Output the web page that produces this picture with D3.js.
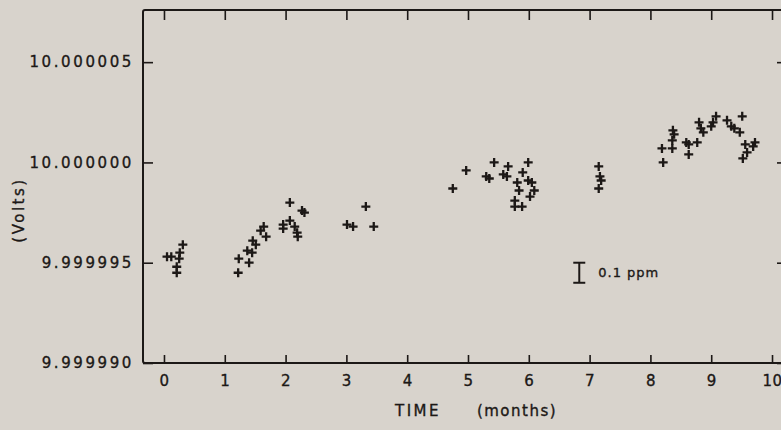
<!DOCTYPE html>
<html>
<head>
<meta charset="utf-8">
<script src="https://cdn.jsdelivr.net/npm/d3@7"></script>
<style>
  html, body { margin: 0; padding: 0; background: #d8d3cc; }
  svg { display: block; }
  text { font-family: "DejaVu Sans", sans-serif; fill: #1c1816; stroke: #1c1816; stroke-width: 0.35px; }
</style>
</head>
<body>
<svg id="chart" width="781" height="430"></svg>
<script>
// Measurement times (months) and measured output (volts) of the 10 V standard
const timeMonths = [
  0.05, 0.12, 0.31, 0.26, 0.25, 0.21, 0.21,
  1.22, 1.23, 1.40, 1.37, 1.45, 1.46, 1.51, 1.68, 1.59, 1.64,
  2.07, 2.27, 2.31, 1.96, 1.96, 2.07, 2.15, 2.19, 2.20,
  3.01, 3.11, 3.32, 3.45,
  4.75, 4.97, 5.43, 5.30, 5.35, 5.66, 5.58, 5.64, 5.99, 5.90,
  5.81, 5.99, 6.05, 5.84, 6.09, 6.02, 5.77, 5.77, 5.89,
  7.15, 7.17, 7.19, 7.15,
  8.21, 8.19, 8.36, 8.37, 8.39, 8.36, 8.59, 8.63, 8.63, 8.77,
  8.80, 8.83, 8.87, 9.00, 9.03, 9.08, 9.26, 9.33, 9.38, 9.47,
  9.51, 9.56, 9.59, 9.72, 9.69, 9.52
];
const volts = [
  9.9999953, 9.9999953, 9.9999959, 9.9999955, 9.9999952, 9.9999948, 9.9999945,
  9.9999945, 9.9999952, 9.9999950, 9.9999956, 9.9999955, 9.9999961, 9.9999959, 9.9999963, 9.9999966, 9.9999968,
  9.9999980, 9.9999976, 9.9999975, 9.9999969, 9.9999967, 9.9999971, 9.9999968, 9.9999965, 9.9999963,
  9.9999969, 9.9999968, 9.9999978, 9.9999968,
  9.9999987, 9.9999996, 10.0000000, 9.9999993, 9.9999992, 9.9999998, 9.9999994, 9.9999993, 10.0000000, 9.9999995,
  9.9999990, 9.9999991, 9.9999990, 9.9999986, 9.9999986, 9.9999983, 9.9999981, 9.9999978, 9.9999978,
  9.9999998, 9.9999993, 9.9999991, 9.9999987,
  10.0000000, 10.0000007, 10.0000007, 10.0000016, 10.0000014, 10.0000011, 10.0000010, 10.0000009, 10.0000004, 10.0000010,
  10.0000020, 10.0000017, 10.0000015, 10.0000018, 10.0000020, 10.0000023, 10.0000021, 10.0000018, 10.0000017, 10.0000015,
  10.0000023, 10.0000009, 10.0000005, 10.0000010, 10.0000008, 10.0000002
];

// Axis ticks
const xTicks = [0, 1, 2, 3, 4, 5, 6, 7, 8, 9, 10];
const yTicks = [9.999990, 9.999995, 10.000000, 10.000005];
const xDomain = [-0.345, 10.23];
const yDomain = [9.99999, 10.0000076];

// 0.1 ppm reference bar (1 µV at 10 V)
const scaleBarTime = [6.83];
const scaleBarVolts = [9.999995, 9.999994];
const scaleBarLabel = ["0.1 ppm"];

const svg = d3.select("#chart");
const plot = { left: 143, right: 786, top: 10, bottom: 363 };

const x = d3.scaleLinear().domain(xDomain).range([plot.left, plot.right]);
const y = d3.scaleLinear().domain(yDomain).range([plot.bottom, plot.top]);

const ink = "#1c1816";

// Frame
svg.append("rect")
  .attr("x", plot.left).attr("y", plot.top)
  .attr("width", plot.right - plot.left).attr("height", plot.bottom - plot.top)
  .attr("rx", 2)
  .attr("fill", "none").attr("stroke", ink).attr("stroke-width", 2);

function styleAxis(g) {
  g.select(".domain").remove();
  g.selectAll(".tick line").attr("stroke", ink).attr("stroke-width", 1.6);
  g.selectAll(".tick text")
    .attr("font-size", 15)
    .attr("letter-spacing", "2.6px")
    .attr("fill", ink);
}

// Bottom axis with month labels, ticks pointing inward
svg.append("g")
  .attr("transform", `translate(0,${plot.bottom})`)
  .call(d3.axisBottom(x).tickValues(xTicks).tickSize(-8).tickPadding(12)
    .tickFormat(d3.format("d")))
  .call(styleAxis)
  .call(g => g.selectAll(".tick text").attr("letter-spacing", "0.5px"));

// Top axis, ticks only
svg.append("g")
  .attr("transform", `translate(0,${plot.top})`)
  .call(d3.axisTop(x).tickValues(xTicks).tickSize(-10).tickFormat(""))
  .call(styleAxis);

// Left axis with voltage labels
svg.append("g")
  .attr("transform", `translate(${plot.left},0)`)
  .call(d3.axisLeft(y).tickValues(yTicks).tickSize(-10).tickPadding(9)
    .tickFormat(d3.format(".6f")))
  .call(styleAxis);

// Right axis, ticks only
svg.append("g")
  .attr("transform", `translate(${plot.right},0)`)
  .call(d3.axisRight(y).tickValues(yTicks).tickSize(-9).tickFormat(""))
  .call(styleAxis);

// Axis titles
svg.append("text")
  .attr("x", 418).attr("y", 416)
  .attr("text-anchor", "middle")
  .attr("font-size", 15).attr("letter-spacing", "2.5px")
  .text("TIME");
svg.append("text")
  .attr("x", 517).attr("y", 416)
  .attr("text-anchor", "middle")
  .attr("font-size", 15).attr("letter-spacing", "1.5px")
  .text("(months)");
svg.append("text")
  .attr("transform", "translate(24,210) rotate(-90)")
  .attr("text-anchor", "middle")
  .attr("font-size", 15).attr("letter-spacing", "2.5px")
  .text("(Volts)");

// Data points as plus markers
const points = timeMonths.map((t, i) => ({ t, v: volts[i] }));
svg.append("g")
  .selectAll("path")
  .data(points)
  .join("path")
  .attr("transform", d => `translate(${x(d.t)},${y(d.v)})`)
  .attr("d", "M-4.5,0H4.5M0,-4.5V4.5")
  .attr("stroke", ink)
  .attr("stroke-width", 2.3)
  .attr("fill", "none");

// Scale bar
const bx = x(scaleBarTime[0]);
const by0 = y(scaleBarVolts[0]);
const by1 = y(scaleBarVolts[1]);
const bar = svg.append("g").attr("stroke", ink).attr("stroke-width", 2);
bar.append("line").attr("x1", bx).attr("x2", bx).attr("y1", by0).attr("y2", by1);
bar.append("line").attr("x1", bx - 6).attr("x2", bx + 6).attr("y1", by0).attr("y2", by0);
bar.append("line").attr("x1", bx - 6).attr("x2", bx + 6).attr("y1", by1).attr("y2", by1);
svg.append("text")
  .attr("x", bx + 19).attr("y", (by0 + by1) / 2)
  .attr("dy", "0.35em")
  .attr("font-size", 13).attr("letter-spacing", "1px")
  .text(scaleBarLabel[0]);
</script>
</body>
</html>
